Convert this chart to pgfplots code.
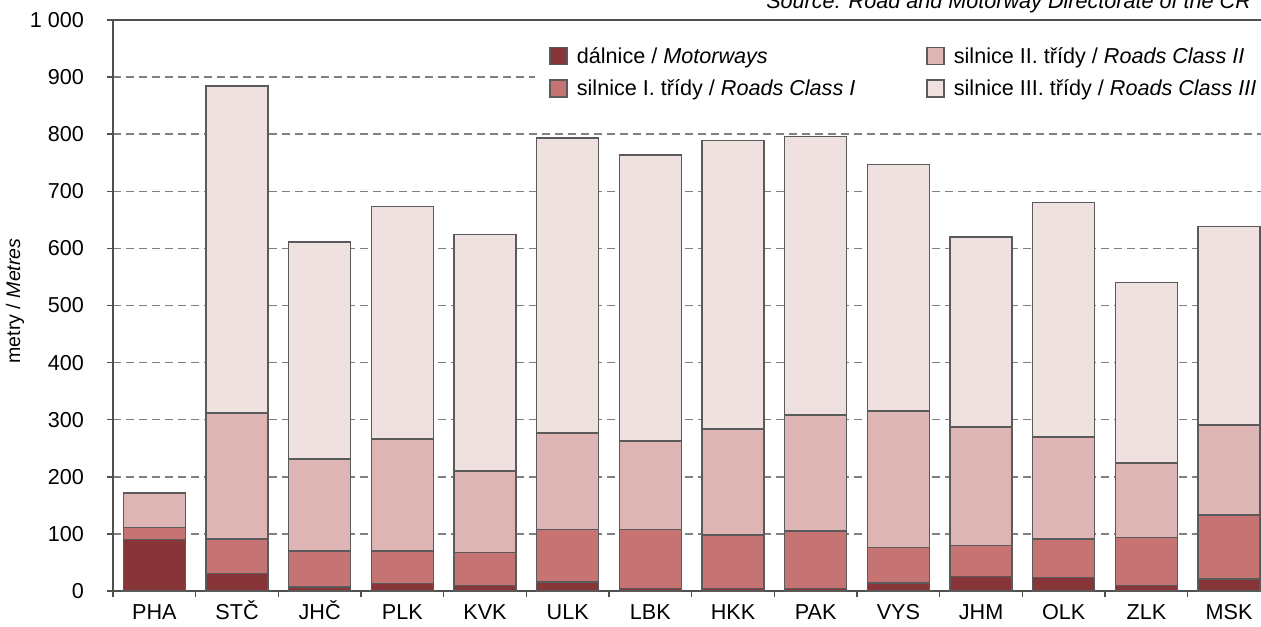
\documentclass[border=0pt]{standalone}
\usepackage{fontspec}
\setmainfont{Liberation Sans}
\usepackage{pgfplots}
\pgfplotsset{compat=1.18}
\definecolor{cmot}{RGB}{135,53,56}
\definecolor{cone}{RGB}{198,115,115}
\definecolor{ctwo}{RGB}{222,181,181}
\definecolor{cthree}{RGB}{240,225,225}
\definecolor{cedge}{RGB}{90,90,90}
\definecolor{cgrid}{RGB}{128,128,128}
\definecolor{caxis}{RGB}{80,80,80}
\newcommand{\fs}{\fontsize{10.8}{13}\selectfont}
\newcommand{\fy}{\fontsize{9.8}{11.8}\selectfont}
\pgfplotsset{
  segm/.style={fill=#1, draw=cedge, line width=0.75pt,
    legend image code/.code={\draw[fill=#1, draw=cedge, line width=0.75pt] (0pt,-4.25pt) rectangle (8.5pt,4.25pt);}},
}
\begin{document}
\begin{tikzpicture}
\begin{axis}[
  at={(0,0)}, anchor=south west,
  scale only axis, width=578.7pt, height=285.5pt,
  xmin=-0.5, xmax=13.5, ymin=0, ymax=1000,
  ybar stacked, bar width=31pt,
  axis x line*=bottom, axis y line*=left,
  axis line style={caxis, line width=1pt},
  ytick={0,100,...,1000},
  yticklabels={0,100,200,300,400,500,600,700,800,900,{1 000}},
  yticklabel style={xshift=-8pt},
  xtick={-0.5,0.5,...,13.5}, xticklabels={},
  extra x ticks={0,1,...,13},
  extra x tick labels={PHA,STČ,JHČ,PLK,KVK,ULK,LBK,HKK,PAK,VYS,JHM,OLK,ZLK,MSK},
  extra x tick style={tick style={draw=none}, xticklabel style={text height=7.7pt}},
  tick align=outside, major tick length=3pt,
  tick style={caxis, line width=0.75pt},
  ymajorgrids, grid style={cgrid, line width=0.75pt, dash pattern=on 4pt off 2.5pt},
  tick label style={font=\fs},
  /pgf/number format/assume math mode=true,
  legend columns=2, transpose legend, legend cell align=left,
  legend style={at={(rel axis cs:0.3646,0.972)}, anchor=north west, draw=none, fill=white,
    inner xsep=7pt, inner ysep=2pt, row sep=0.75pt, font=\fs,
    nodes={text height=9pt, text depth=1.5pt, inner ysep=2.5pt, inner xsep=2pt},
    /tikz/every odd column/.append style={column sep=2.5pt},
    /tikz/every even column/.append style={column sep=33.5pt}},
]
\addplot[segm=cmot] coordinates {(0,90) (1,31) (2,7) (3,13) (4,10) (5,16) (6,4) (7,4) (8,4) (9,14) (10,25) (11,24) (12,10) (13,21)};
\addplot[segm=cone] coordinates {(0,21) (1,60) (2,63) (3,57) (4,57) (5,92) (6,104) (7,94) (8,101) (9,62) (10,55) (11,67) (12,84) (13,112)};
\addplot[segm=ctwo] coordinates {(0,61) (1,221) (2,161) (3,196) (4,143) (5,169) (6,155) (7,186) (8,203) (9,239) (10,207) (11,179) (12,130) (13,158)};
\addplot[segm=cthree] coordinates {(0,0) (1,572) (2,380) (3,407) (4,414) (5,516) (6,501) (7,505) (8,488) (9,432) (10,333) (11,410) (12,316) (13,347)};
\legend{dálnice / \textit{Motorways}, silnice I. třídy / \textit{Roads Class I}, silnice II. třídy / \textit{Roads Class II}, silnice III. třídy / \textit{Roads Class III}}
\draw[caxis, line width=0.75pt] (rel axis cs:0,1) -- (rel axis cs:1,1);
\end{axis}
\node[rotate=90, font=\fy] at (-49pt,145pt) {metry / \textit{Metres}};
\node[anchor=base east, font=\fs\itshape] at (572.5pt,291pt) {Source: Road and Motorway Directorate of the CR};
\pgfresetboundingbox
\useasboundingbox (-56.5pt,-17.5pt) rectangle (574pt,295.5pt);
\end{tikzpicture}
\end{document}
